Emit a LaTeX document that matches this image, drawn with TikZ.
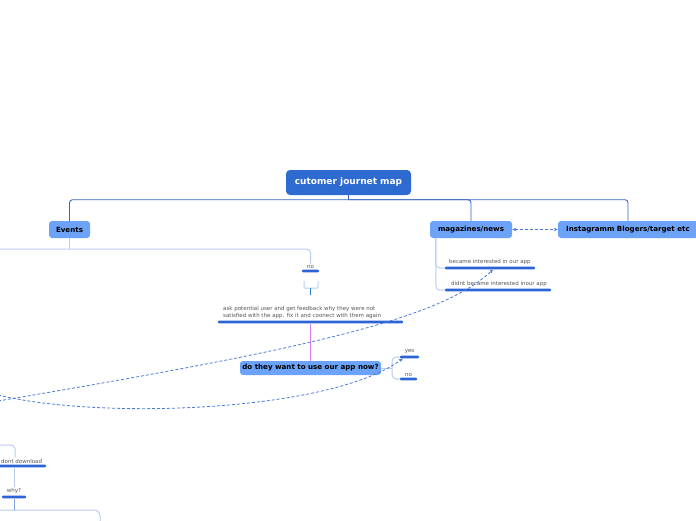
\documentclass[tikz,border=0pt]{standalone}
\usepackage{fontspec}
\setmainfont{DejaVu Sans}
\usetikzlibrary{arrows.meta,positioning}
\definecolor{rootc}{HTML}{2E6BD1}
\definecolor{topc}{HTML}{6CA2F8}
\definecolor{barc}{HTML}{2C64D6}
\definecolor{darkc}{HTML}{3465C0}
\definecolor{lightc}{HTML}{B9CDF0}
\definecolor{dashc}{HTML}{4A7BD8}
\definecolor{purc}{HTML}{D080FF}
\definecolor{txtc}{HTML}{555555}
\tikzset{
  root/.style={rectangle,rounded corners=4pt,fill=rootc,text=white,font=\bfseries\fontsize{9}{10}\selectfont,minimum width=125pt,minimum height=25pt,inner sep=0pt},
  tp/.style={rectangle,rounded corners=3pt,fill=topc,text=black,font=\bfseries\fontsize{7.1}{8}\selectfont,minimum height=17pt,inner sep=0pt},
  bar/.style={rectangle,rounded corners=1pt,fill=barc,minimum height=2.6pt,inner sep=0pt},
  lbl/.style={font=\fontsize{5.5}{7}\selectfont,text=txtc,inner sep=1.2pt},
  lk/.style={draw=darkc,line width=0.9pt,rounded corners=3pt},
  lt/.style={draw=lightc,line width=1pt,rounded corners=4pt},
  dsh/.style={dash pattern=on 3pt off 2pt,draw=dashc,line width=0.8pt},
  tip/.style={-{Stealth[length=4pt,width=3.5pt]}}
}

\begin{document}
\begin{tikzpicture}[x=1pt,y=-1pt]
\useasboundingbox (0,0) rectangle (696,520);
\clip (0,0) rectangle (696,520);
% main topics
\node[root] (map) at (348.5,182.5) {cutomer journet map};
\node[tp,minimum width=41pt] (ev) at (69.5,229.5) {Events};
\node[tp,minimum width=82pt] (mag) at (471,229.5) {magazines/news};
\node[tp,minimum width=140pt] (insta) at (628,229.5) {Instagramm Blogers/target etc};
\node[tp,minimum width=141pt,minimum height=14pt] (ask) at (310.5,368) {do they want to use our app now?};
% subtopics (bar + label)
\node[bar,minimum width=17pt,label={[lbl,name=noTxt]above:no}] (noBar) at (310.5,271) {};
\node[bar,minimum width=185pt,label={[lbl,name=fbTxt,align=left,anchor=south west,xshift=4pt]north west:ask potential user and get feedback why they were not\\satisfied with the app. fix it and coonect with them again}] (fbBar) at (310.5,322) {};
\node[bar,minimum width=19pt,label={[lbl]above:yes}] (yesBar) at (409.5,357) {};
\node[bar,minimum width=17pt,label={[lbl]above:no}] (no2Bar) at (408.5,379) {};
\node[bar,minimum width=90pt,label={[lbl,anchor=south west,xshift=3pt]north west:became interested in our app}] (beBar) at (490,268) {};
\node[bar,minimum width=106pt,label={[lbl,anchor=south west,xshift=5pt]north west:didnt became interested inour app}] (diBar) at (498,290) {};
\node[bar,minimum width=49pt,label={[lbl,name=ddTxt,anchor=south west,xshift=3pt]north west:dont download}] (ddBar) at (21.5,466) {};
\node[bar,minimum width=24pt,label={[lbl,name=whyTxt]above:why?}] (whyBar) at (14,497) {};
% free ends
\coordinate (evOut) at (-5,249);
\coordinate (ddIn) at (-5,445);
\coordinate (whyOut) at (-5,510);
\coordinate (whyEnd) at (100,525);
\coordinate (leftA) at (-2,401);
\coordinate (leftB) at (-2,395);
% root branches
\draw[lk] (map.south) -- ++(0,4.5) coordinate (hub);
\draw[lk] (hub) -| (ev.north);
\draw[lk] (hub) -| (mag.north);
\draw[lk] (hub) -| (insta.north);
% events
\draw[lt] (ev.south) -- ++(0,11);
\draw[lt] (evOut) -| (noTxt.north);
\draw[lt,rounded corners=0.5pt] (304,281) |- (318,288) -- (318,281);
\draw[draw=barc!80!cyan,line width=1pt] (310.5,288) -- (310.5,295);
\draw[draw=purc,line width=0.8pt] (fbBar.south) -- (ask.north);
\draw[lt] (ask.east) -- ++(11,0) coordinate (qHub);
\draw[lt] (yesBar.west) -| (qHub) |- (no2Bar.west);
% magazines
\draw[lt] ([xshift=6pt]mag.south west) |- (beBar.west);
\draw[lt] ([xshift=6pt]mag.south west) |- (diBar.west);
\draw[dsh,{Stealth[length=4pt,width=3.5pt]}-{Stealth[length=4pt,width=3.5pt]}] (mag.east) -- (insta.west);
% relations
\draw[dsh,tip] (leftA) .. controls (300,350) and (440,320) .. ([xshift=3pt]beBar.south);
\draw[dsh,tip] (leftB) .. controls (100,420) and (330,412) .. ([xshift=3pt]yesBar.south west);
% lower left branch
\draw[lt] (ddIn) -| ([xshift=-6.5pt]ddTxt.north);
\draw[lt] ([xshift=-7.5pt]ddBar.south) -- (whyTxt.north);
\draw[draw=barc!60,line width=1pt] (whyBar.south) -- ++(0,12);
\draw[lt,rounded corners=6pt] (whyOut) -| (whyEnd);
\end{tikzpicture}
\end{document}
